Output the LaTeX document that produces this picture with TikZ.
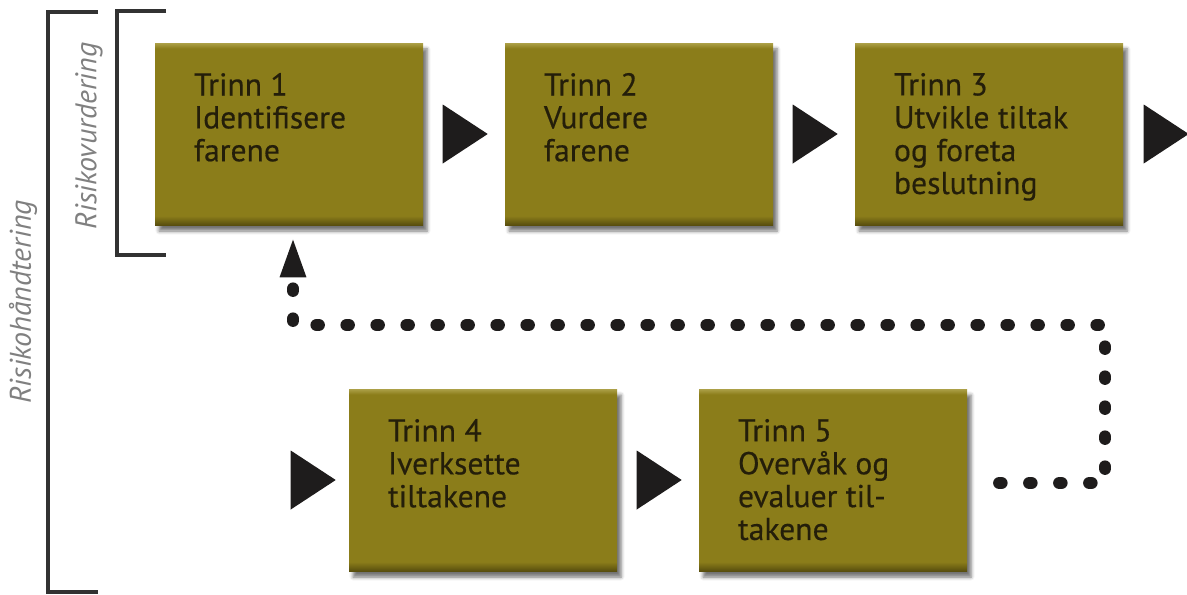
\documentclass[tikz,border=0pt]{standalone}
\usepackage{fontspec}
\setmainfont{PT Sans}
\newfontfamily\trinnfont[FakeBold=0.4]{PT Sans}
\usetikzlibrary{arrows.meta,shapes.geometric,shadows.blur}

\definecolor{trinnolive}{RGB}{139,125,26}
\definecolor{trinndark}{RGB}{88,78,14}
\definecolor{trinnlight}{RGB}{172,160,72}
\definecolor{trinntext}{RGB}{36,30,10}
\definecolor{trinnblack}{RGB}{30,28,28}
\definecolor{labelgray}{RGB}{128,128,128}
\definecolor{bracketgray}{RGB}{50,50,50}

\pgfdeclareverticalshading{trinnbevel}{100bp}{color(0bp)=(trinndark); color(25bp)=(trinndark);
  color(27.5bp)=(trinnolive); color(73.5bp)=(trinnolive); color(75bp)=(trinnlight); color(100bp)=(trinnlight)}

\newcommand\trinnlines[1]{\parbox[c][2.44cm][t]{3.8cm}{\raggedright #1}}

\begin{document}
\begin{tikzpicture}
  [trinn/.style={minimum width=5.36cm, minimum height=3.64cm, inner sep=0,
     shading=trinnbevel, text=trinntext, font=\trinnfont\fontsize{18}{18.7}\selectfont,
     blur shadow={shadow xshift=0.08cm, shadow yshift=-0.12cm, shadow opacity=55}},
   arrowtri/.style={isosceles triangle, isosceles triangle stretches, fill=trinnblack,
     inner sep=0, minimum width=1.18cm, minimum height=0.9cm},
   dotline/.style={draw=trinnblack, line width=0.25cm, line cap=round,
     dash pattern=on 0.04cm off 0.56cm, -{Triangle[length=0.84cm, width=0.46cm]}},
   bracket/.style={draw=bracketgray, line width=0.08cm},
   sidelabel/.style={rotate=90, text=labelgray, font=\itshape\fontsize{17}{20}\selectfont}]

  \useasboundingbox (0,0) rectangle (23.74,11.88);

  % brackets
  \draw[bracket] (1.96,11.64) -- (0.96,11.64) -- (0.96,0.04) -- (1.96,0.04);
  \draw[bracket] (3.32,11.66) -- (2.34,11.66) -- (2.34,6.78) -- (3.32,6.78);
  \node[sidelabel] (handtering) at (0.46,5.84) {Risikohåndtering};
  \node[sidelabel] (vurdering) at (1.78,9.16) {Risikovurdering};

  % steps
  \node[trinn] (b1) at (5.78,9.2) {\trinnlines{Trinn 1\\Identifisere\\farene}};
  \node[trinn] (b2) at (12.78,9.2) {\trinnlines{Trinn 2\\Vurdere\\farene}};
  \node[trinn] (b3) at (19.78,9.2) {\trinnlines{Trinn 3\\Utvikle tiltak\\og foreta\\beslutning}};
  \node[trinn] (b4) at (9.66,2.28) {\trinnlines{Trinn 4\\Iverksette\\tiltakene}};
  \node[trinn] (b5) at (16.66,2.28) {\trinnlines{Trinn 5\\Overvåk og\\evaluer til-\\takene}};

  % triangles
  \node[arrowtri, anchor=apex] (t12) at ([xshift=-0.32cm]b2.west) {};
  \node[arrowtri, anchor=apex] (t23) at ([xshift=-0.32cm]b3.west) {};
  \node[arrowtri, anchor=west] (t3x) at ([xshift=0.4cm]b3.east) {};
  \node[arrowtri, anchor=apex] (t04) at ([xshift=-0.24cm]b4.west) {};
  \node[arrowtri, anchor=apex] (t45) at ([xshift=-0.32cm]b5.west) {};

  % return loop
  \coordinate (loopstart) at ([xshift=0.64cm, yshift=-0.06cm]b5.east);
  \coordinate (loopcorner) at (22.1,5.38);
  \draw[dotline] (loopstart) -| (loopcorner) -| ([xshift=0.08cm, yshift=-0.2cm]b1.south);

\end{tikzpicture}
\end{document}
